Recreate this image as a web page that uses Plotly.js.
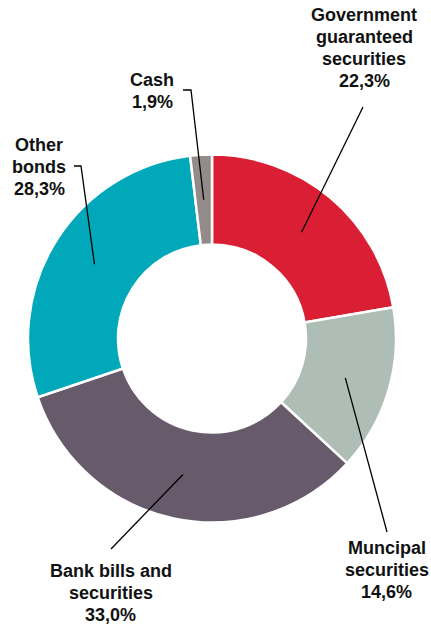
<!DOCTYPE html>
<html>
<head>
<meta charset="utf-8">
<script src="https://cdn.plot.ly/plotly-3.0.1.min.js"></script>
<style>html,body{margin:0;padding:0;background:#fff;}#chart{width:431px;height:625px;}</style>
</head>
<body>
<div id="chart"></div>
<script>
// Data
var categories = ["Government guaranteed securities", "Muncipal securities", "Bank bills and securities", "Other bonds", "Cash"];
var labelLines = [["Government", "guaranteed", "securities"], ["Muncipal", "securities"], ["Bank bills and", "securities"], ["Other", "bonds"], ["Cash"]];
var shares = [22.3, 14.6, 33.0, 28.3, 1.9];
var shareText = ["22,3%", "14,6%", "33,0%", "28,3%", "1,9%"];
var colors = ["#DA1F35", "#AFBDB7", "#675B6B", "#00A8BA", "#938A8A"];

// Layout geometry (pixels)
var W = 431, H = 625;
var cx = 212, cy = 338.5, rOut = 184, rIn = 94;
var rAnchor = (rOut + rIn) / 2;
// label block centres and leader-line outer points
var labelPos = [[364, 48], [386.5, 570], [111, 593], [39, 167], [152, 91]];
var leaderOuter = [
  [[363, 107]],
  [[387, 532]],
  [[111, 549]],
  [[81, 166], [74, 166]],
  [[191, 90], [183, 90]]
];
var fontSize = 18, lineGap = 21.7;

function px(x) { return x / W; }
function py(y) { return 1 - y / H; }

var total = shares.reduce(function (a, b) { return a + b; }, 0);
var shapes = [], annotations = [];
var cum = 0;
for (var i = 0; i < shares.length; i++) {
  var mid = (cum + shares[i] / 2) / total * 2 * Math.PI;
  cum += shares[i];
  var ax = cx + rAnchor * Math.sin(mid), ay = cy - rAnchor * Math.cos(mid);
  var pts = [[ax, ay]].concat(leaderOuter[i]);
  var path = "M" + pts.map(function (p) { return px(p[0]) + "," + py(p[1]); }).join(" L");
  shapes.push({type: "path", xref: "paper", yref: "paper", path: path, line: {color: "#000", width: 1.3}});
  var lines = labelLines[i].concat([shareText[i]]);
  var n = lines.length;
  for (var k = 0; k < n; k++) {
    var yy = labelPos[i][1] + (k - (n - 1) / 2) * lineGap;
    annotations.push({
      xref: "paper", yref: "paper", x: px(labelPos[i][0]), y: py(yy),
      xanchor: "center", yanchor: "middle", showarrow: false,
      text: "<b>" + lines[k] + "</b>",
      font: {family: "Liberation Sans, Arial, sans-serif", size: fontSize, color: "#111"}
    });
  }
}

var trace = {
  type: "pie",
  labels: categories,
  values: shares,
  sort: false,
  direction: "clockwise",
  rotation: 0,
  hole: rIn / rOut,
  textinfo: "none",
  hoverinfo: "label+percent",
  marker: {colors: colors, line: {color: "#fff", width: 2.5}},
  domain: {x: [px(cx - rOut), px(cx + rOut)], y: [py(cy + rOut), py(cy - rOut)]},
  showlegend: false
};

var layout = {
  width: W, height: H,
  margin: {l: 0, r: 0, t: 0, b: 0},
  paper_bgcolor: "#fff",
  showlegend: false,
  shapes: shapes,
  annotations: annotations
};

Plotly.newPlot("chart", [trace], layout, {displayModeBar: false, staticPlot: true});
</script>
</body>
</html>
